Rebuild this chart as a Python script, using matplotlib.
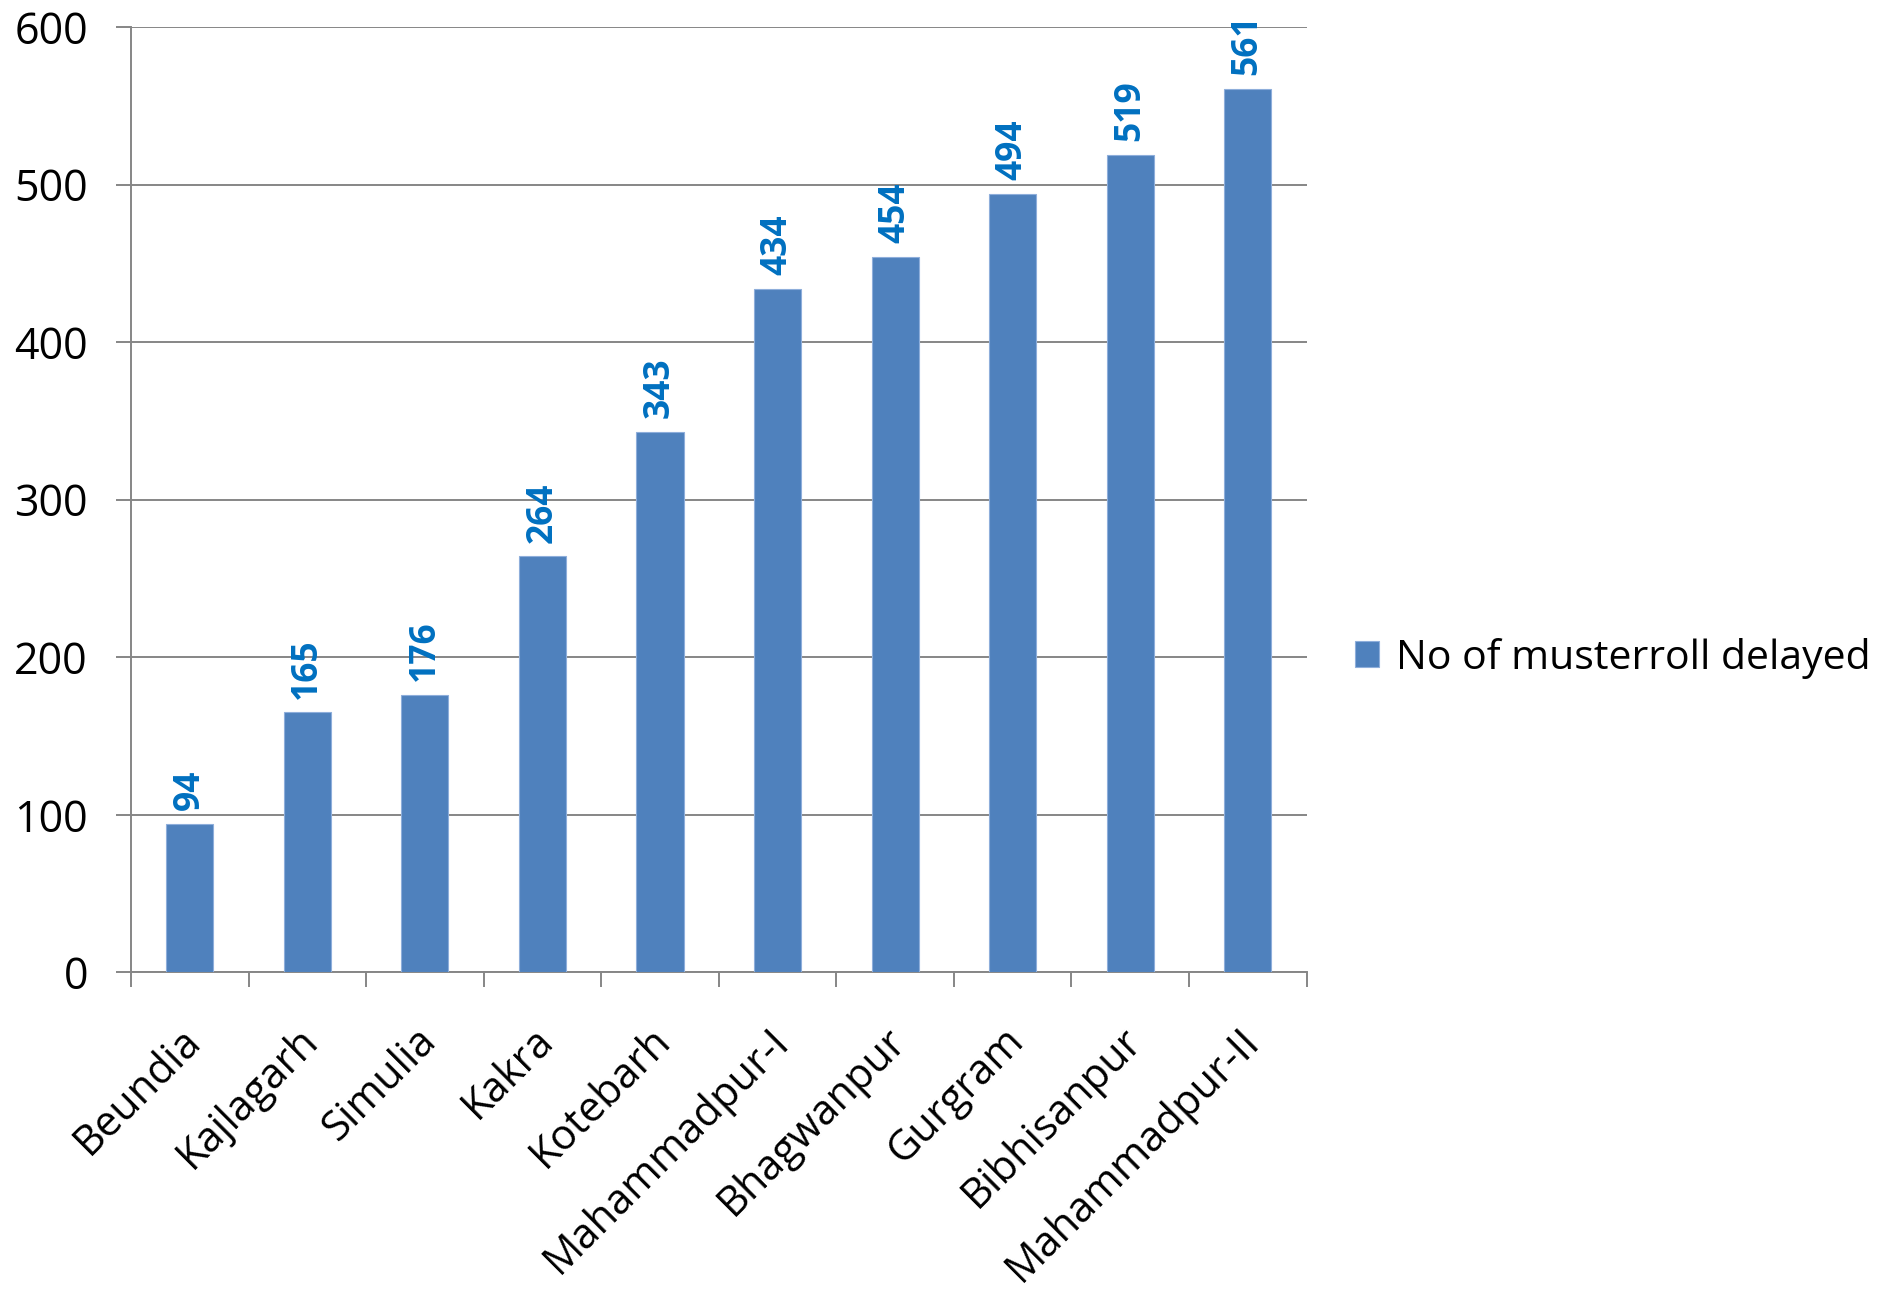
import matplotlib
matplotlib.use('Agg')
import matplotlib.pyplot as plt
from matplotlib.transforms import ScaledTranslation
import numpy as np

## datos del grafico
villages = ['Beundia', 'Kajlagarh', 'Simulia', 'Kakra', 'Kotebarh',
            'Mahammadpur-I', 'Bhagwanpur', 'Gurgram', 'Bibhisanpur', 'Mahammadpur-II']
delayed = [94, 165, 176, 264, 343, 434, 454, 494, 519, 561]
series_name = 'No of musterroll delayed'
yticks = [0, 100, 200, 300, 400, 500, 600]

plt.rcParams['font.family'] = ['Open Sans', 'DejaVu Sans']
gris = '#868686'

fig = plt.figure(figsize=(18.99, 12.93), dpi=100)
ax = fig.add_axes([0.069, 0.248, 0.619, 0.731])

x = np.arange(len(villages))
barras = ax.bar(x, delayed, width=0.4, color='#4F81BD', edgecolor='#8EAEDB',
                linewidth=0.8, label=series_name, zorder=3)

for xi, v in zip(x, delayed):
    ax.annotate(str(v), (xi, v), xytext=(0, 10), textcoords='offset points',
                rotation=90, ha='center', va='bottom', fontsize=25.5,
                fontweight='bold', color='#0070C0')

ax.set_xlim(-0.5, len(villages) - 0.5)
ax.set_ylim(0, 600)
ax.set_yticks(yticks)
ax.set_yticklabels([str(t) for t in yticks], fontsize=31)
ax.yaxis.grid(True, color=gris, linewidth=1.4, zorder=0)
ax.tick_params(axis='y', length=11, width=1.4, color=gris, pad=20)

# ticks del eje x en los limites de cada categoria
ax.set_xticks(np.arange(-0.5, len(villages), 1.0))
ax.set_xticklabels([])
ax.tick_params(axis='x', length=11, width=1.4, color=gris)
ax.set_xticks(x, minor=True)
ax.set_xticklabels(villages, minor=True, rotation=45, ha='right', va='top',
                   rotation_mode='anchor', fontsize=30)
ax.tick_params(axis='x', which='minor', length=0, pad=34)
desplaza = ScaledTranslation(-0.10, 0, fig.dpi_scale_trans)
for etiq in ax.get_xticklabels(minor=True):
    etiq.set_transform(etiq.get_transform() + desplaza)

for lado in ['top', 'right']:
    ax.spines[lado].set_visible(False)
for lado in ['left', 'bottom']:
    ax.spines[lado].set_color(gris)
    ax.spines[lado].set_linewidth(1.4)

leg = fig.legend(handles=[barras], labels=[series_name], loc='center left',
                 bbox_to_anchor=(0.694, 0.491), frameon=False, fontsize=29.5,
                 handlelength=0.6, handleheight=0.6, handletextpad=0.4)

fig.savefig('out.png', dpi=100)
